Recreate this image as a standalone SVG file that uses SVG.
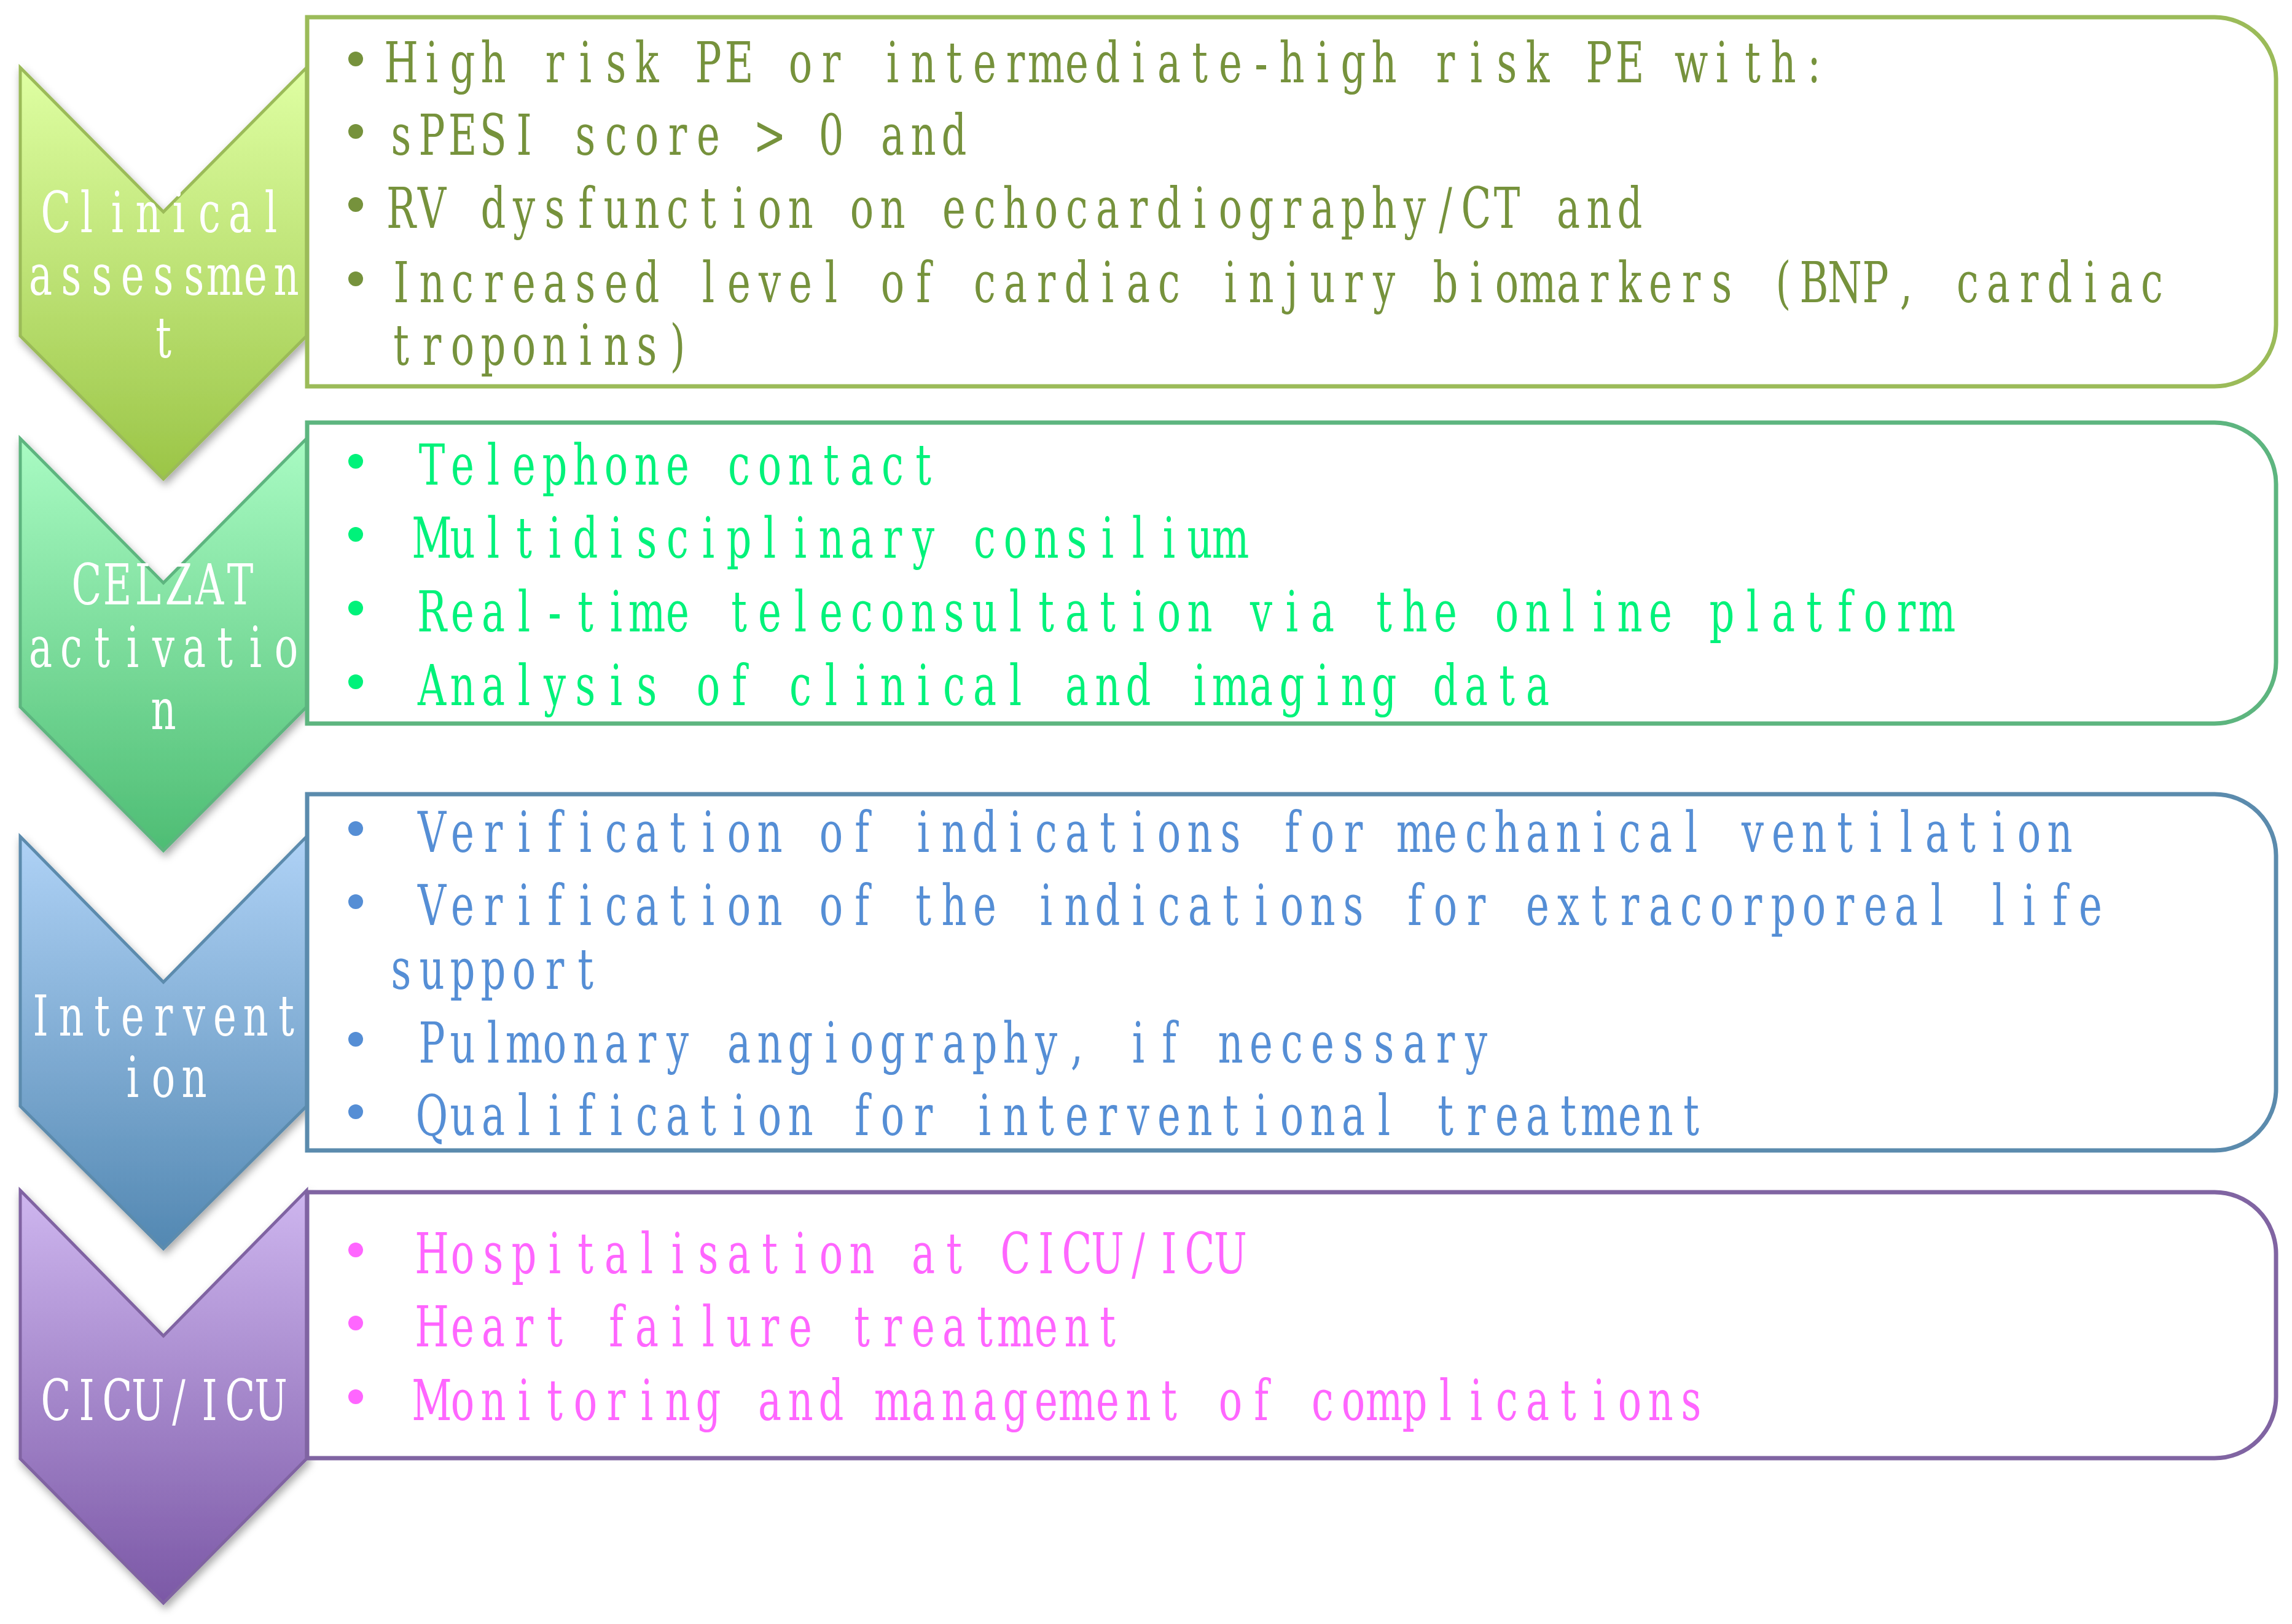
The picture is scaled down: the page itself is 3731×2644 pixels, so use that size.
<svg xmlns="http://www.w3.org/2000/svg" width="3731" height="2644" viewBox="0 0 3731 2644">
<defs>
<linearGradient id="g1" x1="0" y1="0" x2="0" y2="1"><stop offset="0" stop-color="#dfffa3"/><stop offset="1" stop-color="#9bc547"/></linearGradient>
<linearGradient id="g2" x1="0" y1="0" x2="0" y2="1"><stop offset="0" stop-color="#a9fbc3"/><stop offset="1" stop-color="#4ebd74"/></linearGradient>
<linearGradient id="g3" x1="0" y1="0" x2="0" y2="1"><stop offset="0" stop-color="#afd2f6"/><stop offset="1" stop-color="#5388b2"/></linearGradient>
<linearGradient id="g4" x1="0" y1="0" x2="0" y2="1"><stop offset="0" stop-color="#ceb6ef"/><stop offset="1" stop-color="#7b58a6"/></linearGradient>
<filter id="sh" x="-20%" y="-20%" width="140%" height="140%"><feDropShadow dx="3" dy="7" stdDeviation="7" flood-color="#000" flood-opacity="0.35"/></filter>
</defs>
<style>
text{font-family:"DejaVu Serif","Liberation Serif",serif;font-size:92px;text-anchor:middle}
.lbl{fill:#fff}
.box{fill:#fff;stroke-width:7}
.chev{stroke-width:5;filter:url(#sh)}
.t1{fill:#76923c}.t2{fill:#00f27a}.t3{fill:#558ed5}.t4{fill:#ff66ff}
</style>
<g id="connectors"></g>
<g id="step1">
<path class="chev" d="M33,110 L266,345 L499,110 L499,547 L266,780 L33,547 Z" fill="url(#g1)" stroke="#9bbb59"/>
<g class="lbl" transform="translate(266 0) scale(0.69444 1)">
<text x="-252 -180 -108 -36 36 108 180 252" y="378">Clinical</text>
<text x="-288 -216 -144 -72 0 72 144 216 288" y="480">assessmen</text>
<text x="0" y="582">t</text>
</g>
</g>
<g id="box1">
<path class="box" stroke="#9bbb59" d="M500,28 H3605 A100,100 0 0 1 3705,128 V529 A100,100 0 0 1 3605,629 H500 Z"/>
<g class="t1">
<circle cx="579" cy="96" r="12"/><circle cx="579" cy="214" r="12"/><circle cx="579" cy="333" r="12"/><circle cx="579" cy="454" r="12"/>
<g transform="translate(628 0) scale(0.69444 1)">
<text y="134" x="36 108 180 252 324 396 468 540 612 684 756 828 900 972 1044 1116 1188 1260 1332 1404 1476 1548 1620 1692 1764 1836 1908 1980 2052 2124 2196 2268 2340 2412 2484 2556 2628 2700 2772 2844 2916 2988 3060 3132 3204 3276 3348 3420 3492 3564 3636 3708 3780 3852 3924 3996 4068 4140">High risk PE or intermediate-high risk PE with:</text>
<text y="252" x="36 108 180 252 324 396 468 540 612 684 756 828 900 972 1044 1116 1188 1260 1332 1404 1476 1548 1620 1692 1764 1836 1908 1980 2052 2124 2196 2268 2340 2412 2484 2556 2628 2700 2772 2844 2916 2988 3060 3132 3204 3276 3348 3420 3492 3564 3636 3708 3780 3852 3924 3996 4068 4140">sPESI score &gt; 0 and</text>
<text y="371" x="36 108 180 252 324 396 468 540 612 684 756 828 900 972 1044 1116 1188 1260 1332 1404 1476 1548 1620 1692 1764 1836 1908 1980 2052 2124 2196 2268 2340 2412 2484 2556 2628 2700 2772 2844 2916 2988 3060 3132 3204 3276 3348 3420 3492 3564 3636 3708 3780 3852 3924 3996 4068 4140">RV dysfunction on echocardiography/CT and</text>
<text y="492" x="36 108 180 252 324 396 468 540 612 684 756 828 900 972 1044 1116 1188 1260 1332 1404 1476 1548 1620 1692 1764 1836 1908 1980 2052 2124 2196 2268 2340 2412 2484 2556 2628 2700 2772 2844 2916 2988 3060 3132 3204 3276 3348 3420 3492 3564 3636 3708 3780 3852 3924 3996 4068 4140">Increased level of cardiac injury biomarkers (BNP, cardiac</text>
<text y="594" x="36 108 180 252 324 396 468 540 612 684 756 828 900 972 1044 1116 1188 1260 1332 1404 1476 1548 1620 1692 1764 1836 1908 1980 2052 2124 2196 2268 2340 2412 2484 2556 2628 2700 2772 2844 2916 2988 3060 3132 3204 3276 3348 3420 3492 3564 3636 3708 3780 3852 3924 3996 4068 4140">troponins)</text>
</g>
</g>
</g>
<g id="step2">
<path class="chev" d="M33,714 L266,949 L499,714 L499,1151 L266,1385 L33,1151 Z" fill="url(#g2)" stroke="#5db57f"/>
<g class="lbl" transform="translate(266 0) scale(0.69444 1)">
<text x="-180 -108 -36 36 108 180" y="984">CELZAT</text>
<text x="-288 -216 -144 -72 0 72 144 216 288" y="1086">activatio</text>
<text x="0" y="1187">n</text>
</g>
</g>
<g id="box2">
<path class="box" stroke="#5db57f" d="M500,688 H3605 A100,100 0 0 1 3705,788 V1078 A100,100 0 0 1 3605,1178 H500 Z"/>
<g class="t2">
<circle cx="579" cy="751" r="12"/><circle cx="579" cy="870" r="12"/><circle cx="579" cy="990" r="12"/><circle cx="579" cy="1110" r="12"/>
<g transform="translate(628 0) scale(0.69444 1)">
<text y="789" x="108 180 252 324 396 468 540 612 684 756 828 900 972 1044 1116 1188 1260 1332 1404 1476 1548 1620 1692 1764 1836 1908 1980 2052 2124 2196 2268 2340 2412 2484 2556 2628 2700 2772 2844 2916 2988 3060 3132 3204 3276 3348 3420 3492 3564 3636 3708 3780 3852 3924 3996 4068 4140">Telephone contact</text>
<text y="908" x="108 180 252 324 396 468 540 612 684 756 828 900 972 1044 1116 1188 1260 1332 1404 1476 1548 1620 1692 1764 1836 1908 1980 2052 2124 2196 2268 2340 2412 2484 2556 2628 2700 2772 2844 2916 2988 3060 3132 3204 3276 3348 3420 3492 3564 3636 3708 3780 3852 3924 3996 4068 4140">Multidisciplinary consilium</text>
<text y="1028" x="108 180 252 324 396 468 540 612 684 756 828 900 972 1044 1116 1188 1260 1332 1404 1476 1548 1620 1692 1764 1836 1908 1980 2052 2124 2196 2268 2340 2412 2484 2556 2628 2700 2772 2844 2916 2988 3060 3132 3204 3276 3348 3420 3492 3564 3636 3708 3780 3852 3924 3996 4068 4140">Real-time teleconsultation via the online platform</text>
<text y="1148" x="108 180 252 324 396 468 540 612 684 756 828 900 972 1044 1116 1188 1260 1332 1404 1476 1548 1620 1692 1764 1836 1908 1980 2052 2124 2196 2268 2340 2412 2484 2556 2628 2700 2772 2844 2916 2988 3060 3132 3204 3276 3348 3420 3492 3564 3636 3708 3780 3852 3924 3996 4068 4140">Analysis of clinical and imaging data</text>
</g>
</g>
</g>
<g id="step3">
<path class="chev" d="M33,1362 L266,1599 L499,1362 L499,1801 L266,2033 L33,1801 Z" fill="url(#g3)" stroke="#5b8bad"/>
<g class="lbl" transform="translate(266 0) scale(0.69444 1)">
<text x="-288 -216 -144 -72 0 72 144 216 288" y="1686">Intervent</text>
<text x="-72 0 72" y="1786">ion</text>
</g>
</g>
<g id="box3">
<path class="box" stroke="#5b8bad" d="M500,1293 H3605 A100,100 0 0 1 3705,1393 V1773 A100,100 0 0 1 3605,1873 H500 Z"/>
<g class="t3">
<circle cx="579" cy="1349" r="12"/><circle cx="579" cy="1468" r="12"/><circle cx="579" cy="1692" r="12"/><circle cx="579" cy="1810" r="12"/>
<g transform="translate(628 0) scale(0.69444 1)">
<text y="1387" x="108 180 252 324 396 468 540 612 684 756 828 900 972 1044 1116 1188 1260 1332 1404 1476 1548 1620 1692 1764 1836 1908 1980 2052 2124 2196 2268 2340 2412 2484 2556 2628 2700 2772 2844 2916 2988 3060 3132 3204 3276 3348 3420 3492 3564 3636 3708 3780 3852 3924 3996 4068 4140">Verification of indications for mechanical ventilation</text>
<text y="1506" x="108 180 252 324 396 468 540 612 684 756 828 900 972 1044 1116 1188 1260 1332 1404 1476 1548 1620 1692 1764 1836 1908 1980 2052 2124 2196 2268 2340 2412 2484 2556 2628 2700 2772 2844 2916 2988 3060 3132 3204 3276 3348 3420 3492 3564 3636 3708 3780 3852 3924 3996 4068 4140">Verification of the indications for extracorporeal life</text>
<text y="1610" x="36 108 180 252 324 396 468">support</text>
<text y="1730" x="108 180 252 324 396 468 540 612 684 756 828 900 972 1044 1116 1188 1260 1332 1404 1476 1548 1620 1692 1764 1836 1908 1980 2052 2124 2196 2268 2340 2412 2484 2556 2628 2700 2772 2844 2916 2988 3060 3132 3204 3276 3348 3420 3492 3564 3636 3708 3780 3852 3924 3996 4068 4140">Pulmonary angiography, if necessary</text>
<text y="1848" x="108 180 252 324 396 468 540 612 684 756 828 900 972 1044 1116 1188 1260 1332 1404 1476 1548 1620 1692 1764 1836 1908 1980 2052 2124 2196 2268 2340 2412 2484 2556 2628 2700 2772 2844 2916 2988 3060 3132 3204 3276 3348 3420 3492 3564 3636 3708 3780 3852 3924 3996 4068 4140">Qualification for interventional treatment</text>
</g>
</g>
</g>
<g id="step4">
<path class="chev" d="M33,1938 L266,2175 L499,1938 L499,2375 L266,2610 L33,2375 Z" fill="url(#g4)" stroke="#8064a2"/>
<g class="lbl" transform="translate(266 0) scale(0.69444 1)">
<text x="-252 -180 -108 -36 36 108 180 252" y="2312">CICU/ICU</text>
</g>
</g>
<g id="box4">
<path class="box" stroke="#8064a2" d="M500,1941 H3605 A100,100 0 0 1 3705,2041 V2274 A100,100 0 0 1 3605,2374 H500 Z"/>
<g class="t4">
<circle cx="579" cy="2035" r="12"/><circle cx="579" cy="2154" r="12"/><circle cx="579" cy="2274" r="12"/>
<g transform="translate(628 0) scale(0.69444 1)">
<text y="2073" x="108 180 252 324 396 468 540 612 684 756 828 900 972 1044 1116 1188 1260 1332 1404 1476 1548 1620 1692 1764 1836 1908 1980 2052 2124 2196 2268 2340 2412 2484 2556 2628 2700 2772 2844 2916 2988 3060 3132 3204 3276 3348 3420 3492 3564 3636 3708 3780 3852 3924 3996 4068 4140">Hospitalisation at CICU/ICU</text>
<text y="2192" x="108 180 252 324 396 468 540 612 684 756 828 900 972 1044 1116 1188 1260 1332 1404 1476 1548 1620 1692 1764 1836 1908 1980 2052 2124 2196 2268 2340 2412 2484 2556 2628 2700 2772 2844 2916 2988 3060 3132 3204 3276 3348 3420 3492 3564 3636 3708 3780 3852 3924 3996 4068 4140">Heart failure treatment</text>
<text y="2312" x="108 180 252 324 396 468 540 612 684 756 828 900 972 1044 1116 1188 1260 1332 1404 1476 1548 1620 1692 1764 1836 1908 1980 2052 2124 2196 2268 2340 2412 2484 2556 2628 2700 2772 2844 2916 2988 3060 3132 3204 3276 3348 3420 3492 3564 3636 3708 3780 3852 3924 3996 4068 4140">Monitoring and management of complications</text>
</g>
</g>
</g>
</svg>
